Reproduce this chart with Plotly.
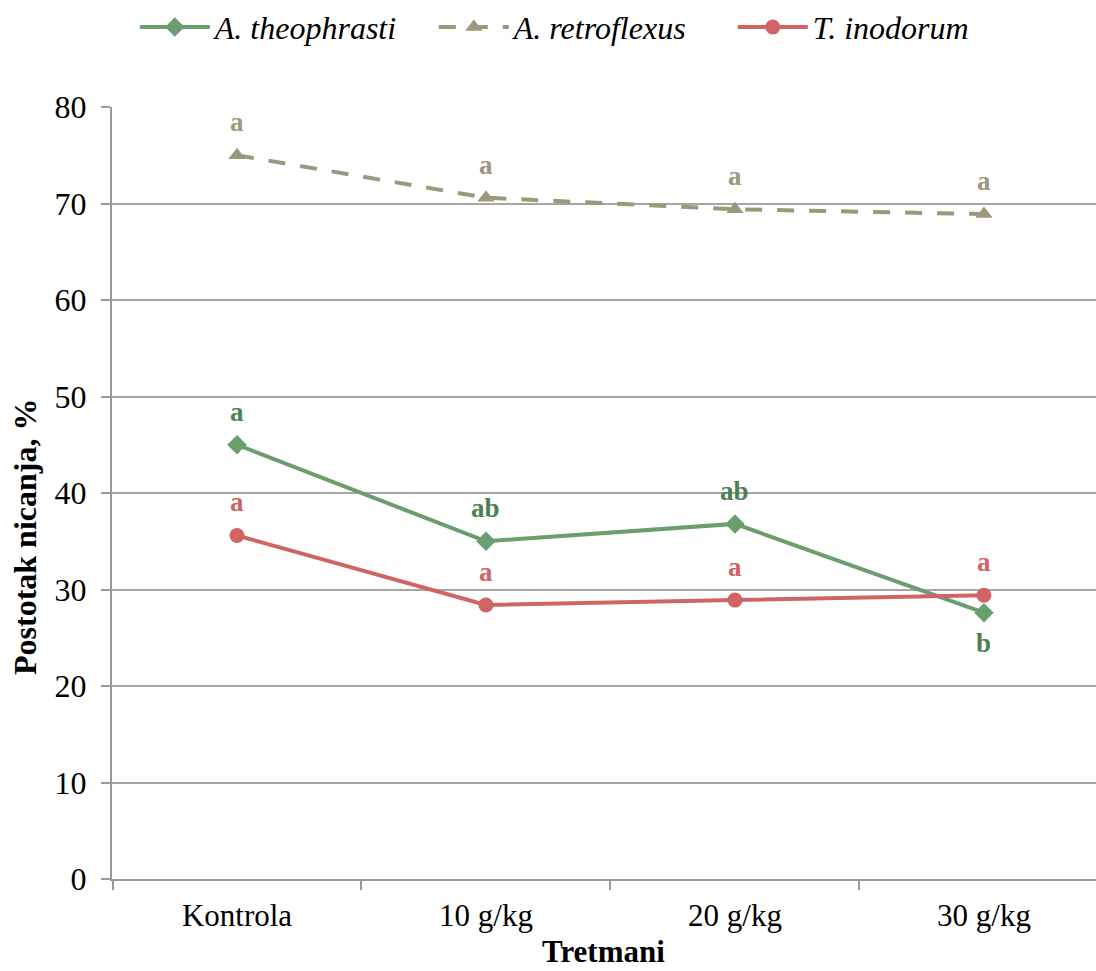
import plotly.graph_objects as go

categories = ["Kontrola", "10 g/kg", "20 g/kg", "30 g/kg"]
theophrasti = [45.0, 35.0, 36.8, 27.6]
retroflexus = [75.0, 70.6, 69.4, 68.9]
inodorum = [35.6, 28.4, 28.9, 29.4]
theo_letters = ["a", "ab", "ab", "b"]
retro_letters = ["a", "a", "a", "a"]
ino_letters = ["a", "a", "a", "a"]
theo_below = [False, False, False, True]

GREEN = "#6a9e6e"
OLIVE = "#9c987b"
RED = "#d06464"
GREEN_TXT = "#4f7f55"

FONT = "Liberation Serif, Times New Roman, serif"

fig = go.Figure()
fig.add_trace(go.Scatter(x=categories, y=theophrasti, name="A. theophrasti", mode="lines+markers",
                         line=dict(color=GREEN, width=4),
                         marker=dict(symbol="diamond", size=15, color=GREEN)))
fig.add_trace(go.Scatter(x=categories, y=retroflexus, name="A. retroflexus", mode="lines+markers",
                         line=dict(color=OLIVE, width=4, dash="17px,15px"),
                         marker=dict(symbol="triangle-up", size=15, color=OLIVE)))
fig.add_trace(go.Scatter(x=categories, y=inodorum, name="T. inodorum", mode="lines+markers",
                         line=dict(color=RED, width=4),
                         marker=dict(symbol="circle", size=15, color=RED)))

anns = []
for c, v, t, below in zip(categories, theophrasti, theo_letters, theo_below):
    anns.append(dict(x=c, y=v, text=f"<b>{t}</b>", showarrow=False, yshift=-30 if below else 33,
                     font=dict(family=FONT, size=27, color=GREEN_TXT)))
for c, v, t in zip(categories, retroflexus, retro_letters):
    anns.append(dict(x=c, y=v, text=f"<b>{t}</b>", showarrow=False, yshift=33,
                     font=dict(family=FONT, size=27, color=OLIVE)))
for c, v, t in zip(categories, inodorum, ino_letters):
    anns.append(dict(x=c, y=v, text=f"<b>{t}</b>", showarrow=False, yshift=33,
                     font=dict(family=FONT, size=27, color=RED)))

anns.append(dict(xref="paper", yref="paper", x=(603 - 112) / 984, xanchor="center",
                 y=-(971 - 879) / 772, yanchor="bottom",
                 text="<b>Tretmani</b>", showarrow=False,
                 font=dict(family=FONT, size=31, color="black")))
anns.append(dict(xref="paper", yref="paper", x=-(112 - 25) / 984, xanchor="center",
                 y=(879 - 537) / 772, yanchor="middle", textangle=-90,
                 text="<b>Postotak nicanja, %</b>", showarrow=False,
                 font=dict(family=FONT, size=32, color="black")))

fig.update_layout(
    width=1096, height=971,
    margin=dict(l=112, r=0, t=107, b=92, autoexpand=False),
    paper_bgcolor="white", plot_bgcolor="white",
    font=dict(family=FONT, size=30, color="black"),
    annotations=anns,
    showlegend=True,
    legend=dict(orientation="h", x=0.123, xanchor="left", xref="container",
                y=0.972, yanchor="middle", yref="container",
                font=dict(family=FONT, size=32, style="italic", color="black"),
                entrywidth=214, entrywidthmode="pixels", itemwidth=70,
                traceorder="normal"),
    xaxis=dict(type="category", range=[-0.502, 3.450], showgrid=False, automargin=False,
               showline=True, linecolor="#999999", linewidth=2,
               ticks="outside", ticklen=9, tickcolor="#999999", tickwidth=1.5,
               ticklabelstandoff=8,
               tickson="boundaries", tickfont=dict(family=FONT, size=31, color="black")),
    yaxis=dict(range=[0, 80], dtick=10, showgrid=True, gridcolor="#a6a6a6", gridwidth=1.5,
               showline=True, linecolor="#999999", linewidth=2, zeroline=False, automargin=False,
               ticks="outside", ticklen=9, tickcolor="#999999", tickwidth=1.5,
               ticklabelstandoff=8,
               tickfont=dict(family=FONT, size=32, color="black")),
)

fig.write_html("out.html", config={"displayModeBar": False},
               post_script="document.body.style.margin='0';document.body.style.overflow='hidden';")
